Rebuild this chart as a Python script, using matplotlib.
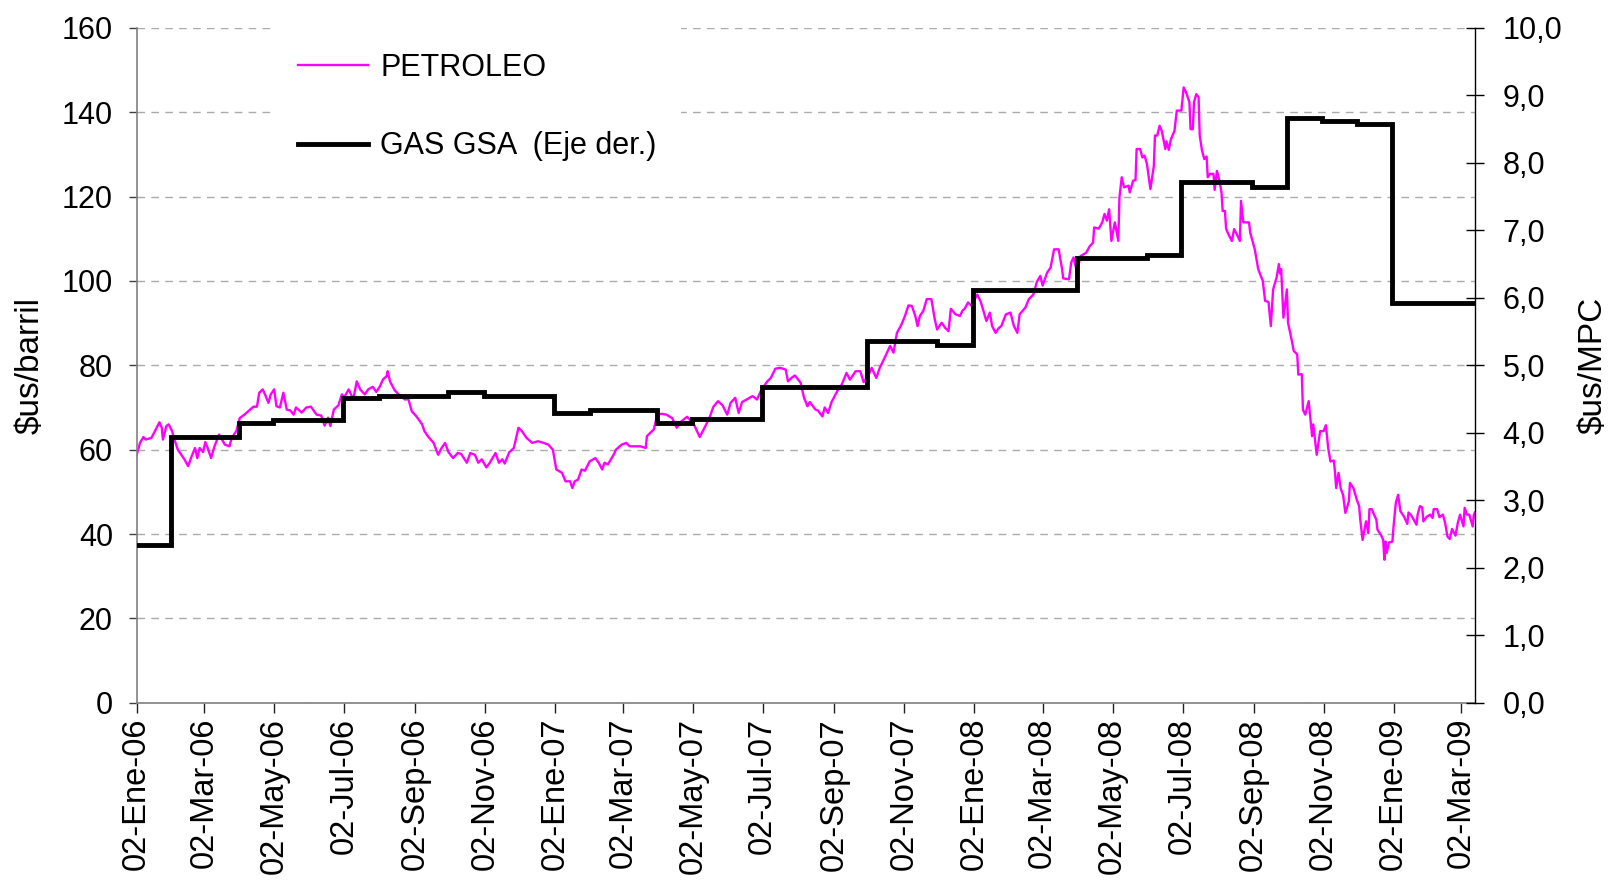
import matplotlib
matplotlib.use('Agg')
import matplotlib.pyplot as plt
import pandas as pd

plt.rcParams['font.family'] = ['Liberation Sans', 'DejaVu Sans']

# ---------------- data ----------------
start_date = '2006-01-02'
end_date = '2009-03-14'

# PETROLEO ($us/barril), x = days since start_date
oil_days = [0, 3, 6, 8, 13, 16, 20, 22, 23, 26, 28, 31, 33, 36, 39, 42, 45, 48, 51, 53,
            55, 58, 60, 62, 65, 68, 72, 77, 81, 83, 87, 90, 94, 99, 102, 105, 107, 110, 112, 115,
            117, 120, 122, 125, 128, 131, 134, 137, 139, 144, 148, 152, 157, 161, 164, 167, 169, 172, 176, 179,
            181, 185, 189, 192, 195, 199, 202, 206, 209, 212, 215, 218, 219, 221, 225, 230, 234, 237, 240, 244,
            249, 251, 254, 259, 263, 266, 269, 272, 276, 280, 283, 288, 291, 295, 298, 301, 305, 308, 313, 316,
            319, 321, 325, 329, 333, 336, 340, 345, 350, 355, 359, 363, 366, 371, 374, 378, 380, 382, 385, 388,
            391, 395, 400, 403, 406, 408, 411, 416, 418, 423, 427, 430, 434, 439, 444, 445, 451, 454, 458, 462,
            467, 471, 475, 480, 486, 491, 496, 500, 503, 507, 511, 515, 518, 522, 525, 528, 532, 537, 541, 545,
            550, 553, 557, 561, 566, 568, 571, 574, 579, 582, 585, 587, 592, 594, 598, 600, 603, 606, 611, 615,
            619, 622, 627, 631, 634, 638, 641, 645, 648, 653, 657, 660, 663, 667, 670, 673, 676, 679, 681, 683,
            686, 689, 693, 696, 698, 702, 705, 708, 710, 714, 718, 720, 722, 725, 728, 733, 736, 738, 741, 744,
            746, 749, 752, 754, 758, 762, 765, 768, 770, 775, 778, 782, 785, 788, 790, 794, 797, 800, 804, 807,
            808, 813, 815, 817, 820, 823, 828, 831, 834, 835, 839, 842, 844, 846, 848, 850, 853, 856, 857, 859,
            861, 865, 866, 869, 871, 872, 875, 877, 879, 881, 884, 887, 888, 890, 892, 894, 897, 898, 900, 902,
            905, 907, 911, 913, 915, 918, 919, 921, 922, 924, 926, 927, 929, 931, 933, 934, 936, 939, 940, 942,
            944, 946, 947, 949, 950, 952, 955, 957, 960, 962, 963, 965, 970, 971, 975, 978, 982, 984, 987, 989,
            991, 994, 996, 997, 998, 999, 1000, 1003, 1004, 1007, 1009, 1012, 1013, 1016, 1017, 1019, 1022, 1025, 1026, 1029,
            1032, 1035, 1037, 1039, 1041, 1044, 1045, 1046, 1048, 1050, 1052, 1054, 1057, 1058, 1061, 1064, 1066, 1067, 1069, 1072,
            1074, 1075, 1077, 1079, 1081, 1082, 1085, 1087, 1088, 1089, 1090, 1092, 1095, 1096, 1098, 1100, 1102, 1105, 1108, 1109,
            1111, 1114, 1116, 1117, 1119, 1121, 1122, 1125, 1128, 1130, 1131, 1134, 1136, 1139, 1141, 1143, 1145, 1147, 1150, 1152,
            1154, 1157, 1158, 1160, 1162, 1165, 1166, 1167]
oil_price = [58.6, 61.6, 63.0, 62.4, 62.8, 64.4, 66.5, 65.2, 62.4, 65.6, 66.0, 64.4, 62.4, 60.0, 58.8, 57.6, 56.1, 58.4, 60.4, 58.0,
             60.4, 59.4, 61.8, 60.4, 58.0, 60.8, 63.6, 61.2, 60.8, 62.8, 64.4, 67.5, 68.3, 69.5, 70.2, 70.2, 73.5, 74.3, 73.1, 71.1,
             73.1, 74.3, 70.3, 70.0, 73.5, 69.5, 69.3, 68.3, 70.0, 68.8, 70.0, 70.2, 68.3, 68.1, 65.7, 67.6, 65.6, 69.5, 70.5, 73.1,
             72.4, 74.3, 71.9, 76.2, 74.3, 73.1, 74.3, 74.9, 73.7, 74.9, 76.7, 77.4, 78.6, 76.2, 74.1, 72.7, 71.9, 72.0, 69.1, 67.9,
             66.0, 64.4, 63.2, 61.6, 58.8, 60.4, 61.6, 59.4, 58.0, 59.2, 59.0, 56.9, 59.2, 58.8, 56.9, 57.7, 55.8, 56.9, 59.2, 56.9,
             57.7, 56.7, 59.4, 60.4, 65.2, 64.4, 62.8, 61.6, 62.0, 61.6, 61.2, 60.0, 55.3, 54.5, 52.5, 52.5, 50.9, 52.5, 52.9, 55.3,
             55.0, 57.2, 58.0, 56.9, 55.3, 56.9, 56.5, 58.8, 60.0, 61.2, 61.6, 60.8, 60.8, 60.8, 60.4, 63.2, 64.8, 68.3, 68.5, 68.3,
             67.5, 65.2, 66.7, 67.8, 66.0, 63.0, 65.6, 67.9, 70.2, 71.5, 70.5, 68.3, 71.1, 72.3, 68.7, 71.3, 71.9, 72.7, 71.9, 74.3,
             76.2, 77.0, 79.2, 79.4, 79.0, 76.2, 77.0, 77.6, 75.9, 72.3, 70.3, 71.3, 69.5, 69.3, 67.9, 70.0, 68.7, 71.3, 73.9, 75.5,
             78.2, 76.6, 78.6, 78.6, 76.0, 77.6, 79.4, 77.0, 79.4, 82.2, 84.6, 83.0, 87.7, 89.7, 91.7, 94.2, 94.1, 91.7, 89.3, 91.7,
             92.9, 95.7, 95.7, 90.9, 88.5, 90.1, 88.9, 88.1, 93.4, 92.1, 91.7, 92.9, 93.4, 94.9, 94.1, 96.8, 95.1, 93.3, 90.5, 92.5,
             89.3, 87.7, 88.9, 89.3, 92.1, 92.5, 89.3, 87.7, 92.1, 93.7, 95.7, 96.8, 99.8, 101.2, 98.9, 102.0, 103.2, 107.5, 107.5, 102.8,
             100.6, 100.4, 104.4, 105.6, 102.0, 105.9, 106.7, 108.2, 109.1, 112.7, 112.4, 113.9, 115.9, 114.3, 117.0, 109.5, 113.9, 109.5, 119.8, 124.6,
             122.2, 122.6, 121.0, 123.8, 123.9, 131.3, 131.3, 129.3, 129.7, 127.7, 121.8, 127.3, 134.5, 134.5, 136.8, 135.5, 131.3, 133.1, 131.1, 133.7,
             135.6, 140.4, 140.4, 145.9, 144.8, 142.4, 136.0, 136.0, 142.4, 144.3, 143.6, 134.5, 130.9, 128.9, 129.5, 124.6, 125.4, 125.4, 121.6, 126.1,
             124.0, 121.0, 116.6, 116.6, 112.4, 111.1, 109.5, 112.3, 110.7, 109.5, 119.0, 113.9, 113.9, 111.5, 107.5, 102.8, 100.0, 95.3, 95.0, 89.3,
             98.0, 100.8, 104.0, 101.8, 102.8, 97.0, 91.3, 98.0, 90.1, 86.2, 83.4, 82.6, 77.8, 77.9, 69.5, 68.3, 71.5, 63.2, 66.0, 58.8,
             64.4, 64.4, 65.8, 60.4, 57.2, 57.4, 54.5, 50.9, 54.5, 50.7, 49.3, 45.0, 47.7, 52.1, 50.9, 48.1, 46.6, 43.4, 38.6, 43.0,
             40.2, 45.9, 45.9, 44.6, 43.4, 41.0, 39.8, 38.6, 33.9, 38.2, 35.5, 38.0, 38.2, 41.8, 47.4, 49.3, 45.4, 44.2, 42.4, 45.1,
             44.6, 43.2, 42.2, 44.6, 46.6, 46.3, 43.0, 44.1, 44.6, 43.8, 45.9, 45.9, 44.0, 44.6, 42.6, 39.4, 38.8, 41.2, 39.6, 42.6,
             44.6, 41.8, 46.2, 44.6, 44.6, 41.8, 44.6, 45.1]

# GAS GSA ($us/MPC), price valid from each date onward
gas_dates = ['2006-01-02', '2006-02-01', '2006-04-01', '2006-05-01', '2006-07-01', '2006-08-01',
             '2006-10-01', '2006-11-01', '2007-01-01', '2007-02-01', '2007-04-01', '2007-05-01',
             '2007-07-01', '2007-10-01', '2007-12-01', '2008-01-01', '2008-04-01', '2008-06-01',
             '2008-07-01', '2008-09-01', '2008-10-01', '2008-11-01', '2008-12-01', '2009-01-01',
             '2009-03-14']
gas_price = [2.34, 3.94, 4.15, 4.19, 4.51, 4.55, 4.61, 4.55, 4.29, 4.34, 4.15, 4.21,
             4.68, 5.36, 5.30, 6.12, 6.59, 6.64, 7.71, 7.65, 8.67, 8.62, 8.58, 5.93, 5.93]

tick_dates = ['2006-01-02', '2006-03-02', '2006-05-02', '2006-07-02', '2006-09-02', '2006-11-02',
              '2007-01-02', '2007-03-02', '2007-05-02', '2007-07-02', '2007-09-02', '2007-11-02',
              '2008-01-02', '2008-03-02', '2008-05-02', '2008-07-02', '2008-09-02', '2008-11-02',
              '2009-01-02', '2009-03-02']
tick_labels = ['02-Ene-06', '02-Mar-06', '02-May-06', '02-Jul-06', '02-Sep-06', '02-Nov-06',
               '02-Ene-07', '02-Mar-07', '02-May-07', '02-Jul-07', '02-Sep-07', '02-Nov-07',
               '02-Ene-08', '02-Mar-08', '02-May-08', '02-Jul-08', '02-Sep-08', '02-Nov-08',
               '02-Ene-09', '02-Mar-09']
left_ticks = [0, 20, 40, 60, 80, 100, 120, 140, 160]
right_ticks = [0, 1, 2, 3, 4, 5, 6, 7, 8, 9, 10]
right_tick_labels = ['0,0', '1,0', '2,0', '3,0', '4,0', '5,0', '6,0', '7,0', '8,0', '9,0', '10,0']

# ---------------- plot ----------------
FS = 22
oil_x = pd.Timestamp(start_date) + pd.to_timedelta(oil_days, unit='D')
gas_x = pd.to_datetime(gas_dates)

fig = plt.figure(figsize=(16.12, 8.82), dpi=100)
ax = fig.add_axes([0.0847, 0.2033, 0.8303, 0.765])
ax2 = ax.twinx()

oil_line, = ax.plot(oil_x, oil_price, color='#FF00FF', lw=1.7, label='PETROLEO')
gas_line, = ax2.plot(gas_x, gas_price, color='black', lw=3.5, drawstyle='steps-post',
                     solid_joinstyle='miter', label='GAS GSA  (Eje der.)')

ax.set_xlim(pd.Timestamp(start_date), pd.Timestamp(end_date))
ax.set_ylim(0, 160)
ax2.set_ylim(0, 10)

ax.set_yticks(left_ticks)
ax.set_yticklabels([str(v) for v in left_ticks])
ax2.set_yticks(right_ticks)
ax2.set_yticklabels(right_tick_labels)
ax.set_xticks(pd.to_datetime(tick_dates))
ax.set_xticklabels(tick_labels, rotation=90, ha='center', va='top')

ax.yaxis.grid(True, color='#ababab', lw=1.0, linestyle=(0, (5.5, 4.5)))
ax.xaxis.grid(False)

for s in ['top']:
    ax.spines[s].set_visible(False)
    ax2.spines[s].set_visible(False)
ax.spines['right'].set_visible(False)
ax2.spines['left'].set_visible(False)
ax2.spines['bottom'].set_visible(False)
ax.spines['left'].set_color('#808080')
ax.spines['left'].set_linewidth(1.2)
ax.spines['bottom'].set_color('#808080')
ax.spines['bottom'].set_linewidth(1.2)
ax2.spines['right'].set_color('black')
ax2.spines['right'].set_linewidth(1.0)

ax.tick_params(axis='y', direction='out', length=6, width=1, color='#404040',
               labelsize=FS, pad=11)
ax.tick_params(axis='x', direction='out', length=7, width=1, color='#202020',
               labelsize=23.5, pad=4)
ax2.tick_params(axis='y', direction='inout', length=13.5, width=1, color='black',
                labelsize=FS, pad=13)

ax.set_ylabel(r'\$us/barril', fontsize=24)
ax.yaxis.set_label_coords(-0.0677, 0.5)
ax2.set_ylabel(r'\$us/MPC', fontsize=24, rotation=90)
ax2.yaxis.set_label_coords(1.077, 0.5)

leg = ax2.legend(handles=[oil_line, gas_line], loc='upper left',
                 bbox_to_anchor=(0.1023, 0.9995), borderaxespad=0, borderpad=0.8,
                 frameon=True, fancybox=False, fontsize=FS, handlelength=2.3,
                 handletextpad=0.4, labelspacing=1.59)
leg.get_frame().set_facecolor('white')
leg.get_frame().set_edgecolor('none')
leg.get_frame().set_alpha(1)

fig.savefig('out.png', dpi=100)
